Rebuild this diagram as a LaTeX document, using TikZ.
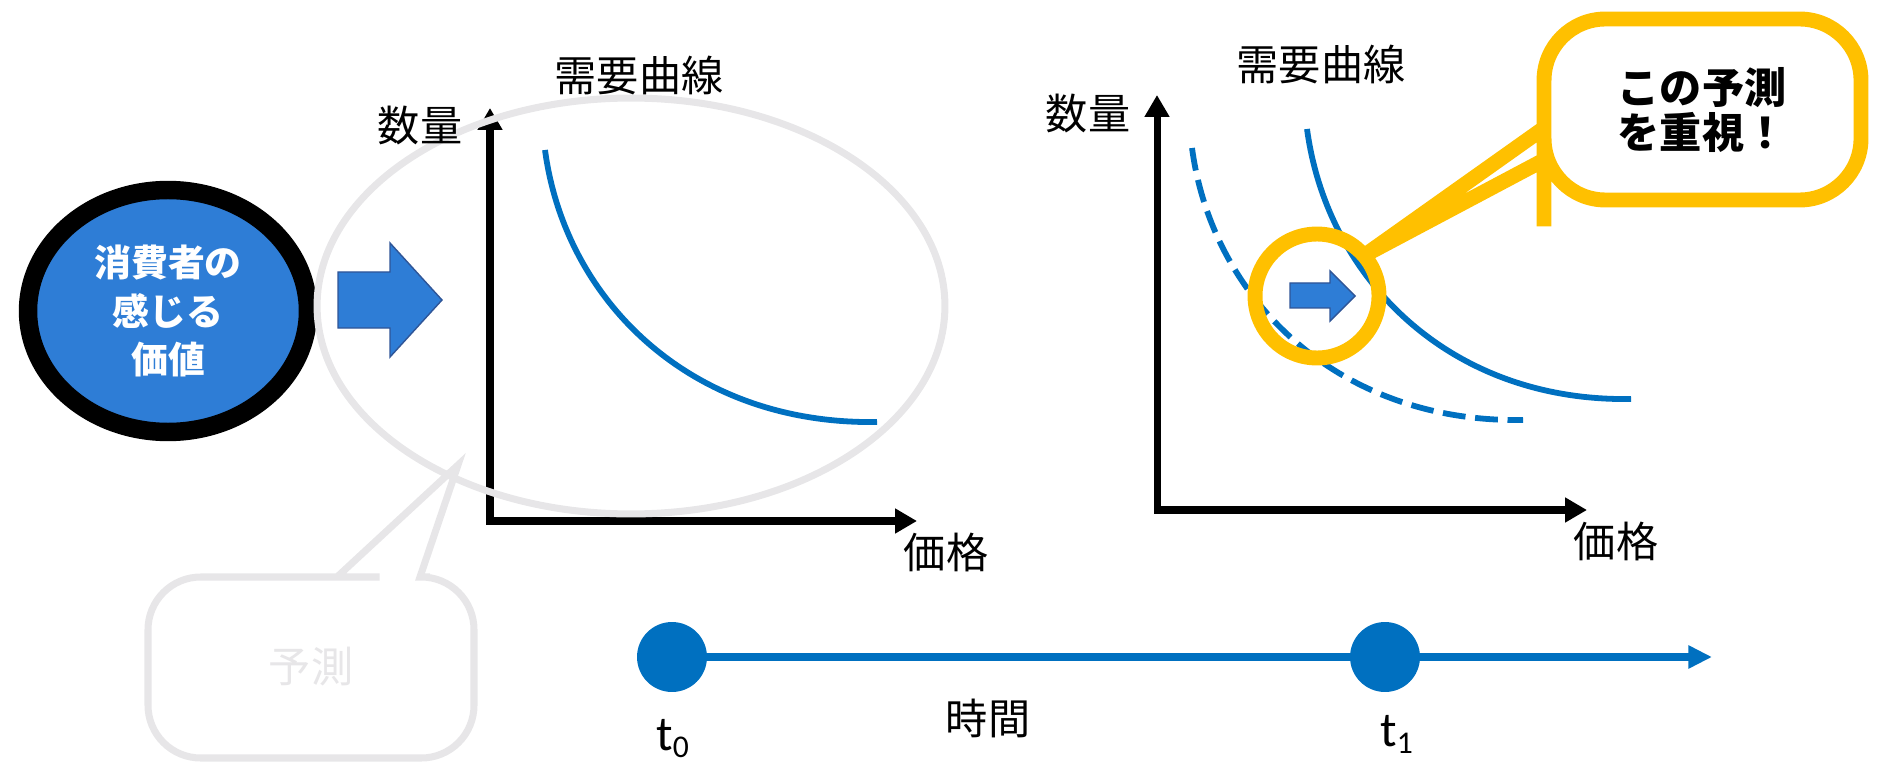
\documentclass[tikz,border=0pt]{standalone}
\usepackage{fontspec}
\setmainfont{Carlito}
\newfontfamily\jp{Noto Sans CJK JP}
\usetikzlibrary{arrows.meta,shapes.geometric}
\definecolor{valueblue}{RGB}{46,125,214}
\definecolor{arrowedge}{RGB}{47,85,151}
\definecolor{curveblue}{RGB}{0,112,192}
\definecolor{hiyellow}{RGB}{255,192,0}
\definecolor{softgray}{RGB}{231,230,232}

\begin{document}
\begin{tikzpicture}[x=0.02cm,y=-0.02cm,
    jplabel/.style={font=\jp\fontsize{24}{28}\selectfont,inner sep=0},
    axisline/.style={line width=4pt,{Triangle[length=12.5pt,width=13.5pt]}-{Triangle[length=12.5pt,width=13.5pt]}},
    demand/.style={draw=curveblue,line width=3.3pt},
    blockarrow/.style={fill=valueblue,draw=arrowedge,line width=0.8pt},
    tdot/.style={circle,fill=curveblue,minimum size=1.4cm,inner sep=0},
    timeline/.style={draw=curveblue,line width=4.5pt},
    tlabel/.style={anchor=base west,font=\fontsize{28}{30}\selectfont,inner sep=0}]
    \useasboundingbox (0,0) rectangle (1878,763);

    % Consumer value
    \node[ellipse,draw=black,line width=10.5pt,fill=valueblue,minimum width=5.6cm,minimum height=4.84cm,inner sep=0,
        text=white,align=center,font=\jp\bfseries\fontsize{21}{27.5}\selectfont] (value) at (168,311) {消費者の\\感じる\\価値};
    \draw[blockarrow] (338,272) -- (390,272) -- (390,243) -- (442,300) -- (390,357) -- (390,328) -- (338,328) -- cycle;

    % Forecast callout
    \draw[draw=softgray,line width=4pt,fill=white] (458,465) -- (420,577) -- (430,577) [rounded corners=30] -- (474,577) -- (474,758) -- (148,758) -- (148,577) -- (327,577) [sharp corners] -- (337,577) -- cycle;
    \node[jplabel,text=softgray] (predict) at (311,667) {予測};

    % Demand curve at t0
    \coordinate (ytop0) at (490,108);
    \coordinate (orig0) at (490,521);
    \coordinate (xend0) at (917,521);
    \draw[axisline] (ytop0) -- (orig0) -- (xend0);
    \draw[demand] (545,150) .. controls (565,300) and (690,425) .. (877,422);
    \node[ellipse,draw=softgray,line width=4pt,minimum width=12.56cm,minimum height=8.32cm,inner sep=0] (forecast) at (631,306) {};
    \node[jplabel] (title0) at (639,76) {需要曲線};
    \node[jplabel] (qty0) at (420,126) {数量};
    \node[jplabel] (price0) at (946,552) {価格};

    % Demand curves at t1
    \coordinate (ytop1) at (1157,95);
    \coordinate (orig1) at (1157,510);
    \coordinate (xend1) at (1587,510);
    \draw[axisline] (ytop1) -- (orig1) -- (xend1);
    \draw[demand] (1307,129) .. controls (1327,278) and (1449,402) .. (1631,399);
    \draw[demand,dash pattern=on 13pt off 5.5pt] (1192,148) .. controls (1212,298) and (1337,423) .. (1523,420);
    \node[jplabel] (title1) at (1321,65) {需要曲線};
    \node[jplabel] (qty1) at (1088,114) {数量};
    \node[jplabel] (price1) at (1616,541) {価格};

    % Emphasis
    \draw[draw=hiyellow,line width=8.5pt,fill=white] (1365,255) -- (1544,128) -- (1544,120) [rounded corners=35] -- (1544,19) -- (1861,19) -- (1861,200) -- (1544,200) -- (1544,165) [sharp corners] -- (1544,160) -- cycle;
    \node[font=\jp\bfseries\fontsize{24}{26}\selectfont,align=center,inner sep=0] (stress) at (1702,110) {この予測\\を重視！};
    \node[circle,draw=hiyellow,line width=8.5pt,minimum size=2.48cm,inner sep=0] (focus) at (1317,296) {};
    \draw[blockarrow] (1290,283) -- (1330,283) -- (1330,271) -- (1355,296) -- (1330,321) -- (1330,308) -- (1290,308) -- cycle;

    % Time axis
    \node[tdot] (t0dot) at (672,657) {};
    \node[tdot] (t1dot) at (1385,657) {};
    \coordinate (tend) at (1712,657);
    \draw[timeline] (t0dot) -- (t1dot);
    \draw[timeline,-{Triangle[length=13.5pt,width=12.5pt]}] (t1dot) -- (tend);
    \node[tlabel] (t0) at (656,750) {t\raisebox{-4.5pt}{\fontsize{18}{20}\selectfont 0}};
    \node[tlabel] (t1) at (1380,746) {t\raisebox{-4.5pt}{\fontsize{18}{20}\selectfont 1}};
    \node[jplabel] (time) at (988,718) {時間};
\end{tikzpicture}
\end{document}
